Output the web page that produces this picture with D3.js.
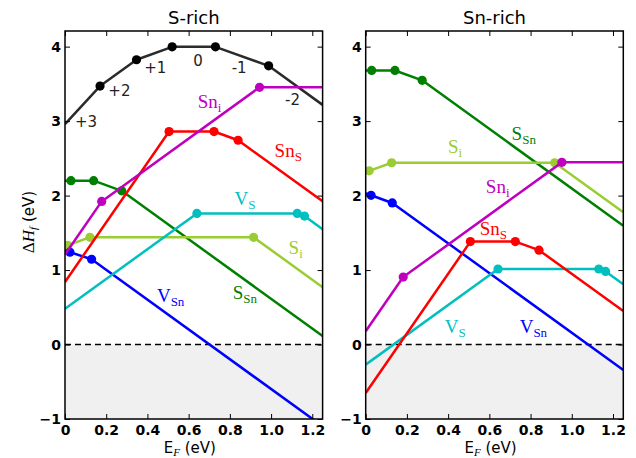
<!DOCTYPE html>
<html>
<head>
<meta charset="utf-8">
<script src="https://cdn.jsdelivr.net/npm/d3@7"></script>
<style>
  html, body { margin: 0; padding: 0; background: #fff; }
  svg { display: block; }
</style>
</head>
<body>
<svg id="chart" width="636" height="458"></svg>
<script>
// ---------------- DATA ----------------
const panelTitles = ["S-rich", "Sn-rich"];
const xTickValues = [0, 0.2, 0.4, 0.6, 0.8, 1.0, 1.2];
const yTickValues = [-1, 0, 1, 2, 3, 4];
const xDomain = [0, 1.25];
const yDomain = [-1, 4.21];

// S-rich panel: [E_F, dH] break points per defect
const sRichCharge = [[0, 2.96], [0.17, 3.47], [0.347, 3.824], [0.52, 3.997], [0.73, 3.997], [0.988, 3.742], [1.25, 3.218]];
const sRichSnS  = [[0, 0.84], [0.505, 2.86], [0.723, 2.86], [0.84, 2.743], [1.25, 1.923]];
const sRichSni  = [[0, 1.21], [0.178, 1.922], [0.944, 3.454], [1.25, 3.454]];
const sRichSSn  = [[0, 2.2], [0.029, 2.2], [0.139, 2.2], [0.275, 2.064], [1.25, 0.114]];
const sRichVS   = [[0, 0.48], [0.64, 1.76], [1.127, 1.76], [1.162, 1.725], [1.25, 1.549]];
const sRichSi   = [[0, 1.32], [0.012, 1.332], [0.121, 1.44], [0.915, 1.44], [1.25, 0.77]];
const sRichVSn  = [[0, 1.264], [0.024, 1.24], [0.129, 1.145], [1.25, -1.097]];

// Sn-rich panel
const snRichSSn = [[0, 3.68], [0.029, 3.68], [0.142, 3.68], [0.274, 3.548], [1.25, 1.596]];
const snRichSi  = [[0, 2.315], [0.017, 2.332], [0.126, 2.441], [0.917, 2.441], [1.25, 1.775]];
const snRichSni = [[0, 0.178], [0.182, 0.906], [0.952, 2.446], [1.25, 2.446]];
const snRichVSn = [[0, 2.03], [0.026, 2.004], [0.129, 1.901], [1.25, -0.341]];
const snRichSnS = [[0, -0.65], [0.508, 1.382], [0.726, 1.382], [0.841, 1.267], [1.25, 0.449]];
const snRichVS  = [[0, -0.27], [0.642, 1.014], [1.131, 1.014], [1.164, 0.981], [1.25, 0.809]];

// charge-state labels on the S-rich black curve: [text, E_F, dH]
const chargeLabels = [["+3", 0.102, 2.92], ["+2", 0.264, 3.34], ["+1", 0.438, 3.65], ["0", 0.646, 3.74], ["-1", 0.845, 3.65], ["-2", 1.104, 3.22]];

// defect labels: [main, sub, E_F, dH]
const sRichLabels = {
  Sni: ["Sn", "i", 0.644, 3.18], SnS: ["Sn", "S", 1.017, 2.52], VS: ["V", "S", 0.823, 1.87],
  Si: ["S", "i", 1.085, 1.22], SSn: ["S", "Sn", 0.814, 0.61], VSn: ["V", "Sn", 0.446, 0.565]
};
const snRichLabels = {
  SSn: ["S", "Sn", 0.708, 2.75], Si: ["S", "i", 0.399, 2.57], Sni: ["Sn", "i", 0.583, 2.03],
  SnS: ["Sn", "S", 0.553, 1.47], VS: ["V", "S", 0.384, 0.16], VSn: ["V", "Sn", 0.747, 0.16]
};

const colors = { charge: "#2b2b2b", SSn: "#008000", Si: "#9acd32", VSn: "#0000ff", VS: "#00bfbf", SnS: "#ff0000", Sni: "#bf00bf" };
const drawOrder = ["SSn", "Si", "VSn", "VS", "SnS", "Sni"];

const panelsData = [
  { title: panelTitles[0], series: { SSn: sRichSSn, Si: sRichSi, VSn: sRichVSn, VS: sRichVS, SnS: sRichSnS, Sni: sRichSni }, charge: sRichCharge, labels: sRichLabels },
  { title: panelTitles[1], series: { SSn: snRichSSn, Si: snRichSi, VSn: snRichVSn, VS: snRichVS, SnS: snRichSnS, Sni: snRichSni }, charge: null, labels: snRichLabels }
];

// ---------------- LAYOUT ----------------
const svg = d3.select("#chart");
const panelX0 = [65, 365.7];
const panelW = 257.6;
const plotTop = 31, plotBottom = 419;

const y = d3.scaleLinear().domain(yDomain).range([plotBottom, plotTop]);

const sans = "DejaVu Sans, sans-serif";
const serif = "Liberation Serif, DejaVu Serif, serif";

panelsData.forEach((p, i) => {
  const x = d3.scaleLinear().domain(xDomain).range([panelX0[i], panelX0[i] + panelW]);
  const g = svg.append("g");
  const clipId = "clip" + i;
  svg.append("clipPath").attr("id", clipId).append("rect")
    .attr("x", x(xDomain[0])).attr("y", plotTop).attr("width", panelW).attr("height", plotBottom - plotTop);

  // grey region below zero
  g.append("rect").attr("x", x(xDomain[0])).attr("y", y(0)).attr("width", panelW).attr("height", y(yDomain[0]) - y(0))
    .attr("fill", "#f0f0f0");
  // dashed zero line
  g.append("line").attr("x1", x(xDomain[0])).attr("x2", x(xDomain[1])).attr("y1", y(0)).attr("y2", y(0))
    .attr("stroke", "#000").attr("stroke-width", 1.5).attr("stroke-dasharray", "6,4");

  const plot = g.append("g").attr("clip-path", `url(#${clipId})`);
  const line = d3.line().x(d => x(d[0])).y(d => y(d[1]));

  const drawSeries = (pts, color) => {
    plot.append("path").datum(pts).attr("d", line).attr("fill", "none")
      .attr("stroke", color).attr("stroke-width", 2.5).attr("stroke-linejoin", "round");
    plot.selectAll(null).data(pts.slice(1, -1)).join("circle")
      .attr("cx", d => x(d[0])).attr("cy", d => y(d[1])).attr("r", 4.6)
      .attr("fill", color === colors.charge ? "#000" : color);
  };

  if (p.charge) drawSeries(p.charge, colors.charge);
  drawOrder.forEach(k => drawSeries(p.series[k], colors[k]));

  // charge labels
  if (p.charge) {
    g.selectAll(null).data(chargeLabels).join("text")
      .attr("x", d => x(d[1])).attr("y", d => y(d[2]))
      .attr("text-anchor", "middle").attr("font-family", sans).attr("font-size", 15)
      .attr("fill", "#222").text(d => d[0]);
  }

  // defect labels
  Object.entries(p.labels).forEach(([k, l]) => {
    const t = g.append("text").attr("x", x(l[2])).attr("y", y(l[3]))
      .attr("font-family", serif).attr("font-size", 19).attr("fill", colors[k]);
    t.append("tspan").text(l[0]);
    t.append("tspan").attr("dy", 4).attr("font-size", 13).text(l[1]);
  });

  // axes
  const xAxisB = d3.axisBottom(x).tickValues(xTickValues).tickSize(-5).tickPadding(6)
    .tickFormat(d => d === 0 ? "0" : d3.format(".1f")(d));
  const xAxisT = d3.axisTop(x).tickValues(xTickValues).tickSize(-5).tickFormat("");
  const yAxisL = d3.axisLeft(y).tickValues(yTickValues).tickSize(-5).tickPadding(4).tickFormat(d3.format("d"));
  const yAxisR = d3.axisRight(y).tickValues(yTickValues).tickSize(-5).tickFormat("");

  const styleAxis = sel => {
    sel.select(".domain").remove();
    sel.selectAll("line").attr("stroke", "#000").attr("stroke-width", 1);
    sel.selectAll("text").attr("font-family", sans).attr("font-size", 14).attr("font-weight", "bold").attr("fill", "#000");
  };
  g.append("g").attr("transform", `translate(0,${plotBottom})`).call(xAxisB).call(styleAxis);
  g.append("g").attr("transform", `translate(0,${plotTop})`).call(xAxisT).call(styleAxis);
  g.append("g").attr("transform", `translate(${x(xDomain[0])},0)`).call(yAxisL).call(styleAxis);
  g.append("g").attr("transform", `translate(${x(xDomain[1])},0)`).call(yAxisR).call(styleAxis);

  // frame
  g.append("rect").attr("x", x(xDomain[0])).attr("y", plotTop).attr("width", panelW).attr("height", plotBottom - plotTop)
    .attr("fill", "none").attr("stroke", "#000").attr("stroke-width", 1.5);

  // title
  g.append("text").attr("x", x(xDomain[0]) + panelW / 2).attr("y", 24).attr("text-anchor", "middle")
    .attr("font-family", sans).attr("font-size", 18).attr("fill", "#000").text(p.title);

  // x label
  const xl = g.append("text").attr("x", x(xDomain[0]) + panelW / 2 - 4).attr("y", 453).attr("text-anchor", "middle")
    .attr("font-family", sans).attr("font-size", 15).attr("fill", "#000");
  xl.append("tspan").text("E");
  xl.append("tspan").attr("dy", 3).attr("font-size", 11).attr("font-style", "italic").attr("font-family", serif).text("F");
  xl.append("tspan").attr("dy", -3).text(" (eV)");
});

// y label
const yl = svg.append("text").attr("transform", "translate(34,222) rotate(-90)").attr("text-anchor", "middle")
  .attr("font-family", sans).attr("font-size", 15).attr("fill", "#000");
yl.append("tspan").attr("font-family", serif).attr("font-size", 17).text("Δ");
yl.append("tspan").attr("font-family", serif).attr("font-style", "italic").attr("font-size", 17).text("H");
yl.append("tspan").attr("font-family", serif).attr("font-style", "italic").attr("font-size", 11).attr("dy", 3).text("f");
yl.append("tspan").attr("dy", -3).text(" (eV)");
</script>
</body>
</html>
